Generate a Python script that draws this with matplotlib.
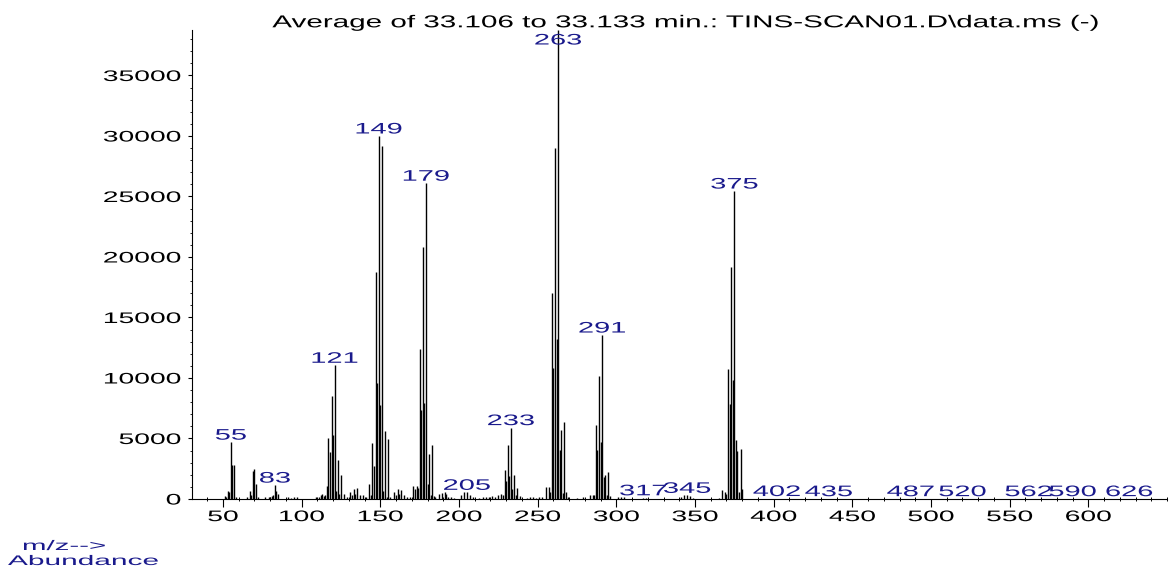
import matplotlib
matplotlib.use("Agg")
import matplotlib.pyplot as plt
from matplotlib.patheffects import AbstractPathEffect
from matplotlib.transforms import Affine2D
from matplotlib.ticker import MultipleLocator, FixedLocator

plt.rcParams["font.family"] = ["Liberation Sans", "DejaVu Sans"]


class Widen(AbstractPathEffect):
    """Stretch glyphs sideways around a fixed point of the text."""

    def __init__(self, sx, anchor=0.5):
        super().__init__()
        self.sx = sx
        self.anchor = anchor

    def draw_path(self, renderer, gc, tpath, affine, rgbFace=None):
        ext = tpath.get_extents()
        cx = ext.x0 + self.anchor * ext.width
        stretch = Affine2D().translate(-cx, 0).scale(self.sx, 1).translate(cx, 0)
        renderer.draw_path(gc, tpath, stretch + affine, rgbFace)


# averaged scan: m/z and abundance
mz = [51, 52, 53, 54, 55, 56, 57, 58,
      65, 67, 68, 69, 70, 71, 72,
      77, 79, 80, 81, 82, 83, 84, 85,
      91, 93, 95, 97,
      109, 111, 112, 113, 114, 115, 116,
      117, 118, 119, 120, 121, 122, 123, 124, 125, 127,
      129, 131, 132, 133, 134, 135, 137, 139, 141, 143, 144,
      145, 146, 147, 148, 149, 150, 151, 152, 153, 154, 155, 156,
      159, 160, 161, 162, 163, 165, 167, 169,
      171, 172, 173, 174, 175, 176, 177, 178, 179, 180, 181, 182, 183, 184,
      185, 187, 189, 191, 192, 193, 195, 197,
      201, 203, 205, 207, 209, 213, 215, 217, 219, 221, 223, 225,
      227, 228, 229, 230, 231, 232, 233, 234, 235, 236, 237, 239,
      243, 245, 247, 249, 251, 253,
      255, 257, 258, 259, 260, 261, 262, 263, 264, 265, 266, 267, 268, 269,
      275, 279, 283, 285, 286, 287, 288, 289, 290, 291, 292, 293, 294, 295, 296,
      301, 303, 305, 317, 319,
      341, 343, 345, 347, 349,
      365, 367, 369, 370, 371, 372, 373, 374, 375, 376, 377, 378, 379, 380,
      402, 435, 487, 520, 562, 590, 626]
abundance = [250, 200, 650, 600, 4700, 2850, 2850, 150,
             150, 700, 350, 2300, 2500, 1250, 150,
             150, 200, 200, 250, 350, 1150, 700, 450,
             150, 100, 150, 200,
             150, 200, 350, 400, 250, 300, 1050,
             5000, 3900, 8500, 5300, 11050, 700, 3200, 450, 1950, 400,
             200, 550, 350, 800, 400, 900, 300, 300, 200, 1200, 300,
             4650, 2700, 18800, 9600, 30000, 7800, 29200, 700, 5600, 200, 4950, 200,
             550, 350, 800, 450, 750, 300, 200, 150,
             1100, 800, 1100, 900, 12400, 7350, 20800, 7900, 26100, 1200, 3700, 300, 4450, 250,
             200, 450, 500, 550, 450, 200, 150, 100,
             350, 600, 550, 350, 150, 100, 150, 200, 150, 250, 200, 300,
             400, 300, 2400, 1450, 4450, 1900, 5900, 800, 2000, 300, 950, 250,
             100, 150, 150, 100, 150, 200,
             1000, 1000, 600, 17000, 10800, 29000, 13200, 38760, 4050, 5700, 500, 6400, 600, 150,
             100, 150, 350, 350, 350, 6100, 4050, 10200, 4750, 13550, 1850, 2000, 300, 2250, 250,
             150, 200, 150, 100, 80,
             200, 300, 300, 250, 120,
             100, 750, 600, 450, 10750, 7850, 19150, 9850, 25450, 4900, 3950, 600, 4100, 850,
             40, 30, 30, 30, 30, 30, 30]

# peaks that carry an m/z tag
tagged = [55, 83, 121, 149, 179, 205, 233, 263, 291, 317, 345, 375,
          402, 435, 487, 520, 562, 590, 626]

title = "Average of 33.106 to 33.133 min.: TINS-SCAN01.D\\data.ms (-)"
x_major = [50, 100, 150, 200, 250, 300, 350, 400, 450, 500, 550, 600]
y_major = [0, 5000, 10000, 15000, 20000, 25000, 30000, 35000]
ytop = max(abundance)

tag_color = "#1a1a8c"

fig = plt.figure(figsize=(11.73, 5.68), dpi=100)
ax = fig.add_axes([192 / 1173, 69 / 568, 975 / 1173, 469 / 568])

ax.vlines(mz, 0, abundance, color="black", linewidth=1.0)

ax.set_xlim(30.3, 650)
ax.set_ylim(0, ytop)

for side in ("top", "right"):
    ax.spines[side].set_visible(False)
for side in ("left", "bottom"):
    ax.spines[side].set_linewidth(0.8)

ax.set_xticks(x_major)
ax.set_xticklabels([str(v) for v in x_major])
ax.xaxis.set_minor_locator(FixedLocator([v for v in range(40, 651, 10) if v % 50 != 0 or v > 600]))
ax.set_yticks(y_major)
ax.set_yticklabels([str(v) for v in y_major])
ax.yaxis.set_minor_locator(MultipleLocator(1000))

ax.tick_params(axis="x", which="major", direction="out", length=5.5, width=0.8,
               pad=2.5, labelsize=11)
ax.tick_params(axis="x", which="minor", direction="inout", length=3.5, width=0.7)
ax.tick_params(axis="y", which="major", direction="out", length=3, width=0.8,
               pad=5, labelsize=11)
ax.tick_params(axis="y", which="minor", direction="out", length=1.5, width=0.6)

for lbl in ax.get_xticklabels():
    lbl.set_path_effects([Widen(1.85, 0.5)])
for lbl in ax.get_yticklabels():
    lbl.set_path_effects([Widen(1.85, 1.0)])

# m/z tags above the peaks
for m in tagged:
    h = abundance[mz.index(m)]
    if h > ytop * 0.97:
        t = ax.annotate(str(m), (m, ytop), xytext=(0, -3.5), textcoords="offset pixels",
                        ha="center", va="top", color=tag_color, fontsize=11,
                        annotation_clip=False)
    else:
        t = ax.annotate(str(m), (m, h), xytext=(0, 2.5), textcoords="offset pixels",
                        ha="center", va="baseline", color=tag_color, fontsize=11)
    t.set_path_effects([Widen(1.9, 0.5)])

fig.text(686 / 1173, 1 - 27.3 / 568, title, ha="center", va="baseline",
         fontsize=12.4, color="black", path_effects=[Widen(1.72, 0.5)])
fig.text(23 / 1173, 18 / 568, "m/z-->", ha="left", va="baseline",
         fontsize=10, color=tag_color, path_effects=[Widen(2.12, 0.0)])
fig.text(8 / 1173, 3 / 568, "Abundance", ha="left", va="baseline",
         fontsize=10, color=tag_color, path_effects=[Widen(2.15, 0.0)])

fig.savefig("out.png", dpi=100)
